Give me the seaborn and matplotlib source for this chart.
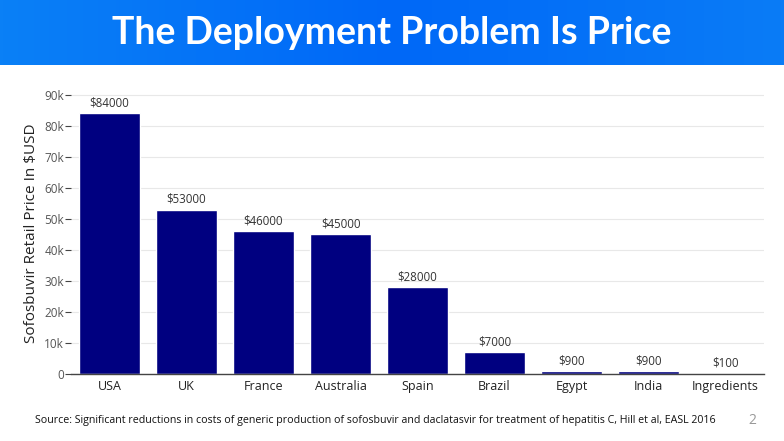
import numpy as np
import pandas as pd
import seaborn as sns
import matplotlib.pyplot as plt
from matplotlib.colors import LinearSegmentedColormap

countries = ['USA', 'UK', 'France', 'Australia', 'Spain', 'Brazil', 'Egypt', 'India', 'Ingredients']
prices = [84000, 53000, 46000, 45000, 28000, 7000, 900, 900, 100]
yticks = [0, 10000, 20000, 30000, 40000, 50000, 60000, 70000, 80000, 90000]
ytick_labels = ['0', '10k', '20k', '30k', '40k', '50k', '60k', '70k', '80k', '90k']

d = pd.DataFrame({'country': countries, 'price': prices})

sns.set_theme(style='white')
plt.rcParams['font.family'] = ['Open Sans', 'DejaVu Sans']

fig = plt.figure(figsize=(7.84, 4.41), dpi=100)

# title banner
banner = fig.add_axes([0, 1 - 65 / 441, 1, 65 / 441])
cmap = LinearSegmentedColormap.from_list('banner', ['#0a80f6', '#0068f8', '#0a7cf6'])
banner.imshow(np.linspace(0, 1, 256)[None, :], aspect='auto', cmap=cmap, extent=[0, 1, 0, 1])
banner.set_xlim(0, 1)
banner.set_ylim(0, 1)
banner.axis('off')
banner.text(0.5, 0.5, 'The Deployment Problem Is Price', color='white', fontsize=27,
            fontweight='bold', family=['Lato', 'DejaVu Sans'], ha='center', va='center')

ax = fig.add_axes([71 / 784, 1 - 374 / 441, (764 - 71) / 784, (374 - 93) / 441])
sns.barplot(data=d, x='country', y='price', color='#000080', saturation=1, width=0.8, ax=ax)
ax.set_ylim(0, 90600)
ax.set_xlim(-0.5, len(countries) - 0.5)
ax.set_yticks(yticks)
ax.set_yticklabels(ytick_labels)
ax.yaxis.grid(True, color='#e8e8e8', linewidth=0.8)
ax.set_axisbelow(True)
for s in ['top', 'right', 'left']:
    ax.spines[s].set_visible(False)
ax.spines['bottom'].set_color('#444444')
ax.spines['bottom'].set_linewidth(1)
ax.tick_params(axis='y', left=True, length=4, width=0.8, color='#444444',
               labelsize=8.5, labelcolor='#555555', pad=1)
ax.tick_params(axis='x', bottom=False, labelsize=9, labelcolor='#222222', pad=-2)
ax.set_xlabel('')
ax.set_ylabel('Sofosbuvir Retail Price In $USD', fontsize=11, color='#222222', labelpad=4)

for i, p in enumerate(prices):
    ax.text(i, p + 1200, '${}'.format(p), ha='center', va='bottom', fontsize=8.3, color='#333333')

fig.text(35 / 784, 1 - 421 / 441,
         'Source: Significant reductions in costs of generic production of sofosbuvir and daclatasvir for treatment of hepatitis C, Hill et al, EASL 2016',
         fontsize=7.7, color='#111111', va='center', family=['Liberation Sans Narrow', 'Open Sans', 'DejaVu Sans'])
fig.text(748 / 784, 1 - 421 / 441, '2', fontsize=10, color='#999999', va='center')

fig.savefig('out.png', dpi=100)
